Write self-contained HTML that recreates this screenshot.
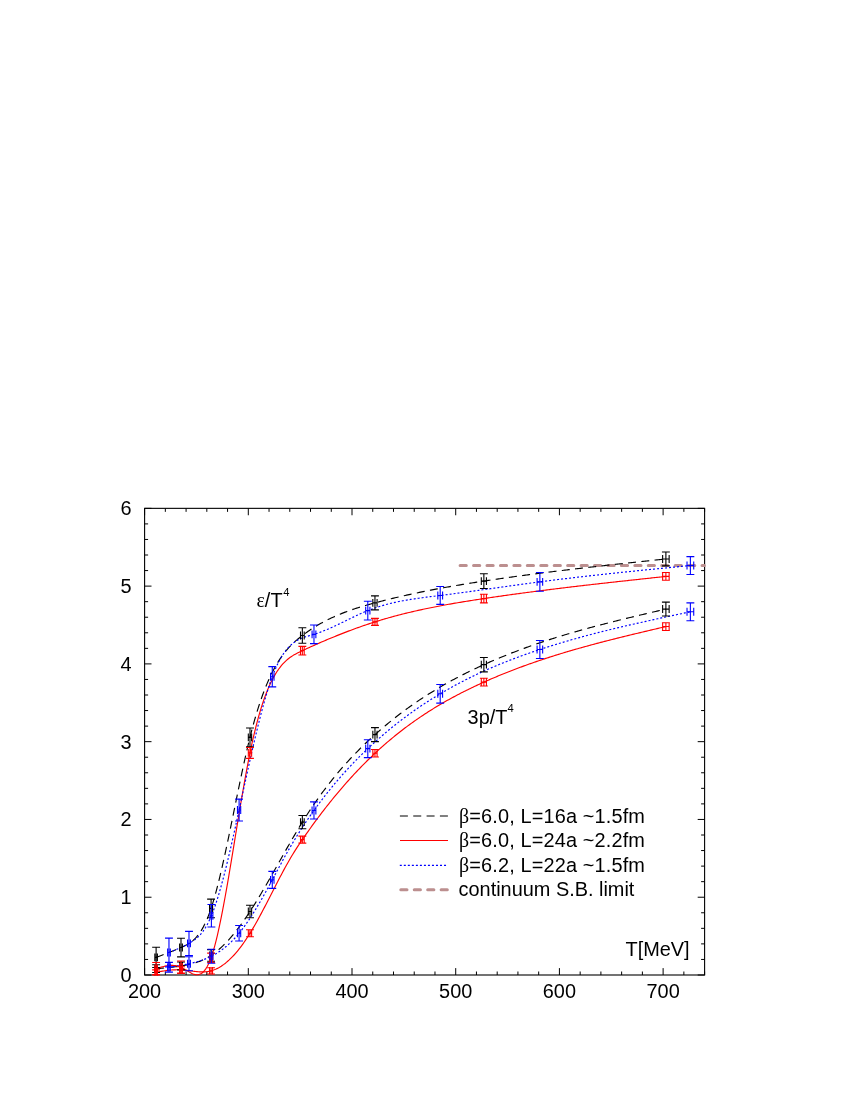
<!DOCTYPE html>
<html><head><meta charset="utf-8"><title>chart</title>
<style>
html,body{margin:0;padding:0;background:#fff;}
body{width:850px;height:1100px;overflow:hidden;font-family:"Liberation Sans",sans-serif;}
svg{display:block;will-change:transform;}
svg text{font-family:"Liberation Sans",sans-serif;fill:#000;}
</style></head><body>
<svg width="850" height="1100" viewBox="0 0 850 1100">
<rect x="144.60" y="508.35" width="560.00" height="466.65" fill="none" stroke="#000" stroke-width="1.1"/>
<path d="M144.60,975.00v-6.9M144.60,508.35v6.9M165.34,975.00v-3.5M165.34,508.35v3.5M186.08,975.00v-3.5M186.08,508.35v3.5M206.82,975.00v-3.5M206.82,508.35v3.5M227.56,975.00v-3.5M227.56,508.35v3.5M248.30,975.00v-6.9M248.30,508.35v6.9M269.04,975.00v-3.5M269.04,508.35v3.5M289.79,975.00v-3.5M289.79,508.35v3.5M310.53,975.00v-3.5M310.53,508.35v3.5M331.27,975.00v-3.5M331.27,508.35v3.5M352.01,975.00v-6.9M352.01,508.35v6.9M372.75,975.00v-3.5M372.75,508.35v3.5M393.49,975.00v-3.5M393.49,508.35v3.5M414.23,975.00v-3.5M414.23,508.35v3.5M434.97,975.00v-3.5M434.97,508.35v3.5M455.71,975.00v-6.9M455.71,508.35v6.9M476.45,975.00v-3.5M476.45,508.35v3.5M497.19,975.00v-3.5M497.19,508.35v3.5M517.93,975.00v-3.5M517.93,508.35v3.5M538.68,975.00v-3.5M538.68,508.35v3.5M559.42,975.00v-6.9M559.42,508.35v6.9M580.16,975.00v-3.5M580.16,508.35v3.5M600.90,975.00v-3.5M600.90,508.35v3.5M621.64,975.00v-3.5M621.64,508.35v3.5M642.38,975.00v-3.5M642.38,508.35v3.5M663.12,975.00v-6.9M663.12,508.35v6.9M683.86,975.00v-3.5M683.86,508.35v3.5M704.60,975.00v-3.5M704.60,508.35v3.5M144.60,975.00h6.9M704.60,975.00h-6.9M144.60,959.45h3.5M704.60,959.45h-3.5M144.60,943.89h3.5M704.60,943.89h-3.5M144.60,928.34h3.5M704.60,928.34h-3.5M144.60,912.78h3.5M704.60,912.78h-3.5M144.60,897.23h6.9M704.60,897.23h-6.9M144.60,881.67h3.5M704.60,881.67h-3.5M144.60,866.12h3.5M704.60,866.12h-3.5M144.60,850.56h3.5M704.60,850.56h-3.5M144.60,835.00h3.5M704.60,835.00h-3.5M144.60,819.45h6.9M704.60,819.45h-6.9M144.60,803.89h3.5M704.60,803.89h-3.5M144.60,788.34h3.5M704.60,788.34h-3.5M144.60,772.78h3.5M704.60,772.78h-3.5M144.60,757.23h3.5M704.60,757.23h-3.5M144.60,741.67h6.9M704.60,741.67h-6.9M144.60,726.12h3.5M704.60,726.12h-3.5M144.60,710.56h3.5M704.60,710.56h-3.5M144.60,695.01h3.5M704.60,695.01h-3.5M144.60,679.45h3.5M704.60,679.45h-3.5M144.60,663.90h6.9M704.60,663.90h-6.9M144.60,648.35h3.5M704.60,648.35h-3.5M144.60,632.79h3.5M704.60,632.79h-3.5M144.60,617.23h3.5M704.60,617.23h-3.5M144.60,601.68h3.5M704.60,601.68h-3.5M144.60,586.12h6.9M704.60,586.12h-6.9M144.60,570.57h3.5M704.60,570.57h-3.5M144.60,555.01h3.5M704.60,555.01h-3.5M144.60,539.46h3.5M704.60,539.46h-3.5M144.60,523.90h3.5M704.60,523.90h-3.5M144.60,508.35h6.9M704.60,508.35h-6.9" fill="none" stroke="#000" stroke-width="1"/>
<path d="M460.1,565.6H704.40" stroke="#bc8f8f" stroke-width="3" stroke-linecap="round" stroke-dasharray="6.2,7.24" fill="none"/>
<path d="M156.11,957.39 L157.39,956.91 L158.66,956.42 L159.94,955.94 L161.22,955.45 L162.50,954.96 L163.78,954.47 L165.05,953.98 L166.33,953.48 L167.61,952.98 L168.89,952.48 L170.16,951.98 L171.44,951.47 L172.72,950.96 L174.00,950.44 L175.27,949.92 L176.55,949.40 L177.83,948.87 L179.11,948.33 L180.38,947.79 L181.66,947.24 L182.94,946.67 L184.22,946.09 L185.50,945.47 L186.77,944.80 L188.05,944.08 L189.33,943.29 L190.61,942.41 L191.88,941.45 L193.16,940.39 L194.44,939.21 L195.72,937.91 L196.99,936.47 L198.27,934.89 L199.55,933.14 L200.83,931.23 L202.10,929.14 L203.38,926.86 L204.66,924.37 L205.94,921.67 L207.22,918.75 L208.49,915.59 L209.77,912.18 L211.05,908.51 L212.33,904.58 L213.60,900.39 L214.88,895.96 L216.16,891.30 L217.44,886.43 L218.71,881.37 L219.99,876.12 L221.27,870.71 L222.55,865.15 L223.82,859.45 L225.10,853.63 L226.38,847.70 L227.66,841.68 L228.94,835.59 L230.21,829.43 L231.49,823.23 L232.77,816.99 L234.05,810.74 L235.32,804.48 L236.60,798.24 L237.88,792.02 L239.16,785.85 L240.43,779.73 L241.71,773.69 L242.99,767.73 L244.27,761.88 L245.54,756.14 L246.82,750.54 L248.10,745.08 L249.38,739.78 L250.66,734.66 L251.93,729.72 L253.21,724.96 L254.49,720.37 L255.77,715.95 L257.04,711.70 L258.32,707.61 L259.60,703.67 L260.88,699.89 L262.15,696.26 L263.43,692.78 L264.71,689.43 L265.99,686.23 L267.27,683.15 L268.54,680.21 L269.82,677.39 L271.10,674.69 L272.38,672.11 L273.65,669.65 L274.93,667.29 L276.21,665.04 L277.49,662.89 L278.76,660.84 L280.04,658.88 L281.32,657.01 L282.60,655.22 L283.87,653.52 L285.15,651.89 L286.43,650.34 L287.71,648.85 L288.99,647.44 L290.26,646.08 L291.54,644.78 L292.82,643.53 L294.10,642.33 L295.37,641.18 L296.65,640.07 L297.93,639.00 L299.21,637.96 L300.48,636.95 L301.76,635.96 L303.04,635.00 L304.32,634.05 L305.59,633.12 L306.87,632.21 L308.15,631.32 L309.43,630.45 L310.71,629.60 L311.98,628.76 L313.26,627.94 L314.54,627.14 L315.82,626.35 L317.09,625.58 L318.37,624.83 L319.65,624.09 L320.93,623.37 L322.20,622.66 L323.48,621.96 L324.76,621.29 L326.04,620.62 L327.31,619.97 L328.59,619.33 L329.87,618.71 L331.15,618.10 L332.43,617.50 L333.70,616.91 L334.98,616.34 L336.26,615.78 L337.54,615.23 L338.81,614.69 L340.09,614.16 L341.37,613.64 L342.65,613.13 L343.92,612.64 L345.20,612.15 L346.48,611.67 L347.76,611.20 L349.03,610.74 L350.31,610.29 L351.59,609.85 L352.87,609.41 L354.15,608.98 L355.42,608.56 L356.70,608.15 L357.98,607.75 L359.26,607.35 L360.53,606.95 L361.81,606.57 L363.09,606.18 L364.37,605.81 L365.64,605.44 L366.92,605.07 L368.20,604.71 L369.48,604.35 L370.76,604.00 L372.03,603.65 L373.31,603.30 L374.59,602.95 L375.87,602.61 L377.14,602.27 L378.42,601.94 L379.70,601.60 L380.98,601.27 L382.25,600.95 L383.53,600.62 L384.81,600.30 L386.09,599.97 L387.36,599.66 L388.64,599.34 L389.92,599.03 L391.20,598.72 L392.48,598.41 L393.75,598.10 L395.03,597.80 L396.31,597.49 L397.59,597.19 L398.86,596.90 L400.14,596.60 L401.42,596.31 L402.70,596.02 L403.97,595.73 L405.25,595.44 L406.53,595.16 L407.81,594.88 L409.08,594.60 L410.36,594.32 L411.64,594.04 L412.92,593.77 L414.20,593.50 L415.47,593.23 L416.75,592.96 L418.03,592.69 L419.31,592.43 L420.58,592.16 L421.86,591.90 L423.14,591.65 L424.42,591.39 L425.69,591.13 L426.97,590.88 L428.25,590.63 L429.53,590.38 L430.80,590.13 L432.08,589.88 L433.36,589.64 L434.64,589.40 L435.92,589.16 L437.19,588.92 L438.47,588.68 L439.75,588.44 L441.03,588.21 L442.30,587.97 L443.58,587.74 L444.86,587.51 L446.14,587.28 L447.41,587.05 L448.69,586.83 L449.97,586.60 L451.25,586.38 L452.52,586.16 L453.80,585.94 L455.08,585.72 L456.36,585.50 L457.64,585.28 L458.91,585.07 L460.19,584.86 L461.47,584.64 L462.75,584.43 L464.02,584.22 L465.30,584.01 L466.58,583.80 L467.86,583.60 L469.13,583.39 L470.41,583.18 L471.69,582.98 L472.97,582.78 L474.24,582.58 L475.52,582.37 L476.80,582.17 L478.08,581.98 L479.36,581.78 L480.63,581.58 L481.91,581.38 L483.19,581.19 L484.47,580.99 L485.74,580.80 L487.02,580.61 L488.30,580.41 L489.58,580.22 L490.85,580.03 L492.13,579.84 L493.41,579.65 L494.69,579.47 L495.97,579.28 L497.24,579.09 L498.52,578.91 L499.80,578.72 L501.08,578.54 L502.35,578.35 L503.63,578.17 L504.91,577.99 L506.19,577.81 L507.46,577.62 L508.74,577.44 L510.02,577.26 L511.30,577.09 L512.57,576.91 L513.85,576.73 L515.13,576.55 L516.41,576.38 L517.69,576.20 L518.96,576.03 L520.24,575.86 L521.52,575.68 L522.80,575.51 L524.07,575.34 L525.35,575.17 L526.63,575.00 L527.91,574.83 L529.18,574.66 L530.46,574.49 L531.74,574.32 L533.02,574.15 L534.29,573.98 L535.57,573.82 L536.85,573.65 L538.13,573.49 L539.41,573.32 L540.68,573.16 L541.96,573.00 L543.24,572.83 L544.52,572.67 L545.79,572.51 L547.07,572.35 L548.35,572.19 L549.63,572.03 L550.90,571.87 L552.18,571.71 L553.46,571.55 L554.74,571.39 L556.01,571.23 L557.29,571.08 L558.57,570.92 L559.85,570.76 L561.13,570.61 L562.40,570.45 L563.68,570.30 L564.96,570.14 L566.24,569.99 L567.51,569.84 L568.79,569.68 L570.07,569.53 L571.35,569.38 L572.62,569.23 L573.90,569.08 L575.18,568.93 L576.46,568.78 L577.73,568.63 L579.01,568.48 L580.29,568.33 L581.57,568.18 L582.85,568.03 L584.12,567.88 L585.40,567.73 L586.68,567.59 L587.96,567.44 L589.23,567.29 L590.51,567.15 L591.79,567.00 L593.07,566.86 L594.34,566.71 L595.62,566.57 L596.90,566.42 L598.18,566.28 L599.46,566.13 L600.73,565.99 L602.01,565.85 L603.29,565.70 L604.57,565.56 L605.84,565.42 L607.12,565.28 L608.40,565.13 L609.68,564.99 L610.95,564.85 L612.23,564.71 L613.51,564.57 L614.79,564.43 L616.06,564.29 L617.34,564.15 L618.62,564.01 L619.90,563.87 L621.18,563.73 L622.45,563.59 L623.73,563.45 L625.01,563.31 L626.29,563.17 L627.56,563.03 L628.84,562.89 L630.12,562.75 L631.40,562.62 L632.67,562.48 L633.95,562.34 L635.23,562.20 L636.51,562.07 L637.78,561.93 L639.06,561.79 L640.34,561.65 L641.62,561.52 L642.90,561.38 L644.17,561.24 L645.45,561.11 L646.73,560.97 L648.01,560.83 L649.28,560.70 L650.56,560.56 L651.84,560.42 L653.12,560.29 L654.39,560.15 L655.67,560.01 L656.95,559.88 L658.23,559.74 L659.50,559.61 L660.78,559.47 L662.06,559.33 L663.34,559.20 L664.62,559.06 L665.89,558.93" fill="none" stroke="#000" stroke-width="1.15" stroke-dasharray="8,5.34"/>
<path d="M156.11,968.67 L157.39,968.56 L158.66,968.45 L159.94,968.33 L161.22,968.22 L162.50,968.10 L163.78,967.99 L165.05,967.87 L166.33,967.74 L167.61,967.62 L168.89,967.48 L170.16,967.35 L171.44,967.21 L172.72,967.06 L174.00,966.91 L175.27,966.75 L176.55,966.58 L177.83,966.41 L179.11,966.23 L180.38,966.04 L181.66,965.84 L182.94,965.64 L184.22,965.42 L185.50,965.19 L186.77,964.94 L188.05,964.68 L189.33,964.40 L190.61,964.10 L191.88,963.79 L193.16,963.44 L194.44,963.08 L195.72,962.69 L196.99,962.27 L198.27,961.83 L199.55,961.35 L200.83,960.85 L202.10,960.31 L203.38,959.73 L204.66,959.12 L205.94,958.47 L207.22,957.79 L208.49,957.06 L209.77,956.29 L211.05,955.47 L212.33,954.61 L213.60,953.71 L214.88,952.76 L216.16,951.76 L217.44,950.73 L218.71,949.65 L219.99,948.52 L221.27,947.36 L222.55,946.16 L223.82,944.91 L225.10,943.63 L226.38,942.30 L227.66,940.94 L228.94,939.54 L230.21,938.10 L231.49,936.63 L232.77,935.12 L234.05,933.57 L235.32,931.99 L236.60,930.37 L237.88,928.72 L239.16,927.04 L240.43,925.32 L241.71,923.57 L242.99,921.79 L244.27,919.98 L245.54,918.14 L246.82,916.27 L248.10,914.36 L249.38,912.44 L250.66,910.48 L251.93,908.49 L253.21,906.48 L254.49,904.45 L255.77,902.39 L257.04,900.31 L258.32,898.21 L259.60,896.08 L260.88,893.94 L262.15,891.79 L263.43,889.61 L264.71,887.42 L265.99,885.22 L267.27,883.01 L268.54,880.78 L269.82,878.55 L271.10,876.30 L272.38,874.05 L273.65,871.80 L274.93,869.53 L276.21,867.27 L277.49,865.00 L278.76,862.73 L280.04,860.46 L281.32,858.19 L282.60,855.93 L283.87,853.66 L285.15,851.41 L286.43,849.15 L287.71,846.91 L288.99,844.67 L290.26,842.45 L291.54,840.24 L292.82,838.03 L294.10,835.84 L295.37,833.67 L296.65,831.51 L297.93,829.37 L299.21,827.25 L300.48,825.15 L301.76,823.07 L303.04,821.01 L304.32,818.97 L305.59,816.96 L306.87,814.97 L308.15,813.00 L309.43,811.05 L310.71,809.12 L311.98,807.22 L313.26,805.33 L314.54,803.47 L315.82,801.62 L317.09,799.80 L318.37,798.00 L319.65,796.22 L320.93,794.45 L322.20,792.71 L323.48,790.98 L324.76,789.28 L326.04,787.59 L327.31,785.92 L328.59,784.27 L329.87,782.64 L331.15,781.02 L332.43,779.42 L333.70,777.84 L334.98,776.28 L336.26,774.73 L337.54,773.20 L338.81,771.69 L340.09,770.19 L341.37,768.71 L342.65,767.24 L343.92,765.79 L345.20,764.36 L346.48,762.94 L347.76,761.53 L349.03,760.14 L350.31,758.76 L351.59,757.40 L352.87,756.05 L354.15,754.71 L355.42,753.39 L356.70,752.08 L357.98,750.78 L359.26,749.50 L360.53,748.22 L361.81,746.96 L363.09,745.71 L364.37,744.48 L365.64,743.25 L366.92,742.04 L368.20,740.83 L369.48,739.64 L370.76,738.46 L372.03,737.29 L373.31,736.13 L374.59,734.97 L375.87,733.83 L377.14,732.70 L378.42,731.57 L379.70,730.46 L380.98,729.35 L382.25,728.26 L383.53,727.17 L384.81,726.09 L386.09,725.02 L387.36,723.96 L388.64,722.91 L389.92,721.87 L391.20,720.83 L392.48,719.81 L393.75,718.79 L395.03,717.78 L396.31,716.78 L397.59,715.79 L398.86,714.80 L400.14,713.83 L401.42,712.86 L402.70,711.90 L403.97,710.95 L405.25,710.01 L406.53,709.07 L407.81,708.15 L409.08,707.23 L410.36,706.32 L411.64,705.41 L412.92,704.51 L414.20,703.63 L415.47,702.74 L416.75,701.87 L418.03,701.00 L419.31,700.14 L420.58,699.29 L421.86,698.44 L423.14,697.61 L424.42,696.78 L425.69,695.95 L426.97,695.13 L428.25,694.32 L429.53,693.52 L430.80,692.72 L432.08,691.93 L433.36,691.15 L434.64,690.37 L435.92,689.60 L437.19,688.83 L438.47,688.07 L439.75,687.32 L441.03,686.57 L442.30,685.83 L443.58,685.10 L444.86,684.37 L446.14,683.65 L447.41,682.93 L448.69,682.22 L449.97,681.52 L451.25,680.82 L452.52,680.12 L453.80,679.44 L455.08,678.75 L456.36,678.08 L457.64,677.40 L458.91,676.74 L460.19,676.07 L461.47,675.42 L462.75,674.77 L464.02,674.12 L465.30,673.48 L466.58,672.84 L467.86,672.21 L469.13,671.58 L470.41,670.96 L471.69,670.34 L472.97,669.73 L474.24,669.12 L475.52,668.51 L476.80,667.91 L478.08,667.31 L479.36,666.72 L480.63,666.13 L481.91,665.55 L483.19,664.97 L484.47,664.40 L485.74,663.82 L487.02,663.26 L488.30,662.69 L489.58,662.13 L490.85,661.57 L492.13,661.02 L493.41,660.47 L494.69,659.93 L495.97,659.38 L497.24,658.85 L498.52,658.31 L499.80,657.78 L501.08,657.25 L502.35,656.73 L503.63,656.21 L504.91,655.69 L506.19,655.18 L507.46,654.67 L508.74,654.16 L510.02,653.66 L511.30,653.16 L512.57,652.66 L513.85,652.17 L515.13,651.68 L516.41,651.19 L517.69,650.71 L518.96,650.23 L520.24,649.75 L521.52,649.28 L522.80,648.81 L524.07,648.34 L525.35,647.87 L526.63,647.41 L527.91,646.95 L529.18,646.50 L530.46,646.04 L531.74,645.59 L533.02,645.15 L534.29,644.70 L535.57,644.26 L536.85,643.82 L538.13,643.39 L539.41,642.95 L540.68,642.52 L541.96,642.10 L543.24,641.67 L544.52,641.25 L545.79,640.83 L547.07,640.41 L548.35,640.00 L549.63,639.58 L550.90,639.17 L552.18,638.77 L553.46,638.36 L554.74,637.96 L556.01,637.56 L557.29,637.16 L558.57,636.77 L559.85,636.37 L561.13,635.98 L562.40,635.59 L563.68,635.21 L564.96,634.82 L566.24,634.44 L567.51,634.06 L568.79,633.69 L570.07,633.31 L571.35,632.94 L572.62,632.56 L573.90,632.19 L575.18,631.83 L576.46,631.46 L577.73,631.10 L579.01,630.74 L580.29,630.38 L581.57,630.02 L582.85,629.66 L584.12,629.31 L585.40,628.96 L586.68,628.60 L587.96,628.25 L589.23,627.91 L590.51,627.56 L591.79,627.22 L593.07,626.87 L594.34,626.53 L595.62,626.19 L596.90,625.86 L598.18,625.52 L599.46,625.18 L600.73,624.85 L602.01,624.52 L603.29,624.19 L604.57,623.86 L605.84,623.53 L607.12,623.20 L608.40,622.88 L609.68,622.55 L610.95,622.23 L612.23,621.91 L613.51,621.58 L614.79,621.26 L616.06,620.95 L617.34,620.63 L618.62,620.31 L619.90,620.00 L621.18,619.68 L622.45,619.37 L623.73,619.05 L625.01,618.74 L626.29,618.43 L627.56,618.12 L628.84,617.81 L630.12,617.50 L631.40,617.20 L632.67,616.89 L633.95,616.58 L635.23,616.28 L636.51,615.97 L637.78,615.67 L639.06,615.36 L640.34,615.06 L641.62,614.76 L642.90,614.46 L644.17,614.15 L645.45,613.85 L646.73,613.55 L648.01,613.25 L649.28,612.95 L650.56,612.65 L651.84,612.35 L653.12,612.05 L654.39,611.76 L655.67,611.46 L656.95,611.16 L658.23,610.86 L659.50,610.56 L660.78,610.26 L662.06,609.97 L663.34,609.67 L664.62,609.37 L665.89,609.08" fill="none" stroke="#000" stroke-width="1.15" stroke-dasharray="8,5.34"/>
<path d="M156.11,968.67 L157.39,968.27 L158.66,967.88 L159.94,967.50 L161.22,967.14 L162.50,966.79 L163.78,966.47 L165.05,966.18 L166.33,965.93 L167.61,965.72 L168.89,965.56 L170.16,965.44 L171.44,965.38 L172.72,965.39 L174.00,965.46 L175.27,965.60 L176.55,965.83 L177.83,966.13 L179.11,966.52 L180.38,967.00 L181.66,967.58 L182.94,968.25 L184.22,968.98 L185.50,969.75 L186.77,970.54 L188.05,971.33 L189.33,972.09 L190.61,972.79 L191.88,973.42 L193.16,973.95 L194.44,974.36 L195.72,974.62 L196.99,974.71 L198.27,974.61 L199.55,974.30 L200.83,973.74 L202.10,972.92 L203.38,971.82 L204.66,970.40 L205.94,968.66 L207.22,966.55 L208.49,964.07 L209.77,961.19 L211.05,957.87 L212.33,954.12 L213.60,949.94 L214.88,945.35 L216.16,940.39 L217.44,935.06 L218.71,929.41 L219.99,923.45 L221.27,917.20 L222.55,910.69 L223.82,903.95 L225.10,896.99 L226.38,889.84 L227.66,882.53 L228.94,875.08 L230.21,867.50 L231.49,859.83 L232.77,852.09 L234.05,844.31 L235.32,836.50 L236.60,828.69 L237.88,820.91 L239.16,813.17 L240.43,805.51 L241.71,797.94 L242.99,790.49 L244.27,783.18 L245.54,776.04 L246.82,769.09 L248.10,762.36 L249.38,755.86 L250.66,749.63 L251.93,743.66 L253.21,737.96 L254.49,732.52 L255.77,727.32 L257.04,722.37 L258.32,717.65 L259.60,713.16 L260.88,708.90 L262.15,704.85 L263.43,701.02 L264.71,697.39 L265.99,693.95 L267.27,690.71 L268.54,687.64 L269.82,684.76 L271.10,682.05 L272.38,679.50 L273.65,677.11 L274.93,674.87 L276.21,672.77 L277.49,670.81 L278.76,668.98 L280.04,667.28 L281.32,665.69 L282.60,664.22 L283.87,662.85 L285.15,661.57 L286.43,660.39 L287.71,659.30 L288.99,658.28 L290.26,657.33 L291.54,656.45 L292.82,655.63 L294.10,654.86 L295.37,654.13 L296.65,653.44 L297.93,652.79 L299.21,652.16 L300.48,651.55 L301.76,650.95 L303.04,650.35 L304.32,649.76 L305.59,649.17 L306.87,648.59 L308.15,648.01 L309.43,647.43 L310.71,646.85 L311.98,646.27 L313.26,645.70 L314.54,645.13 L315.82,644.56 L317.09,644.00 L318.37,643.44 L319.65,642.88 L320.93,642.33 L322.20,641.77 L323.48,641.22 L324.76,640.68 L326.04,640.13 L327.31,639.59 L328.59,639.06 L329.87,638.52 L331.15,637.99 L332.43,637.46 L333.70,636.94 L334.98,636.42 L336.26,635.90 L337.54,635.39 L338.81,634.87 L340.09,634.37 L341.37,633.86 L342.65,633.36 L343.92,632.86 L345.20,632.37 L346.48,631.88 L347.76,631.39 L349.03,630.91 L350.31,630.43 L351.59,629.95 L352.87,629.48 L354.15,629.01 L355.42,628.54 L356.70,628.08 L357.98,627.62 L359.26,627.17 L360.53,626.72 L361.81,626.27 L363.09,625.83 L364.37,625.39 L365.64,624.95 L366.92,624.52 L368.20,624.10 L369.48,623.67 L370.76,623.25 L372.03,622.84 L373.31,622.43 L374.59,622.02 L375.87,621.62 L377.14,621.22 L378.42,620.83 L379.70,620.44 L380.98,620.05 L382.25,619.67 L383.53,619.29 L384.81,618.92 L386.09,618.54 L387.36,618.18 L388.64,617.82 L389.92,617.46 L391.20,617.10 L392.48,616.75 L393.75,616.40 L395.03,616.06 L396.31,615.72 L397.59,615.38 L398.86,615.05 L400.14,614.71 L401.42,614.39 L402.70,614.06 L403.97,613.74 L405.25,613.43 L406.53,613.11 L407.81,612.80 L409.08,612.49 L410.36,612.19 L411.64,611.89 L412.92,611.59 L414.20,611.29 L415.47,611.00 L416.75,610.71 L418.03,610.43 L419.31,610.14 L420.58,609.86 L421.86,609.58 L423.14,609.31 L424.42,609.03 L425.69,608.76 L426.97,608.50 L428.25,608.23 L429.53,607.97 L430.80,607.71 L432.08,607.45 L433.36,607.20 L434.64,606.94 L435.92,606.69 L437.19,606.44 L438.47,606.20 L439.75,605.95 L441.03,605.71 L442.30,605.47 L443.58,605.24 L444.86,605.00 L446.14,604.77 L447.41,604.53 L448.69,604.30 L449.97,604.08 L451.25,603.85 L452.52,603.63 L453.80,603.40 L455.08,603.18 L456.36,602.96 L457.64,602.75 L458.91,602.53 L460.19,602.32 L461.47,602.10 L462.75,601.89 L464.02,601.68 L465.30,601.47 L466.58,601.27 L467.86,601.06 L469.13,600.86 L470.41,600.65 L471.69,600.45 L472.97,600.25 L474.24,600.05 L475.52,599.85 L476.80,599.65 L478.08,599.46 L479.36,599.26 L480.63,599.07 L481.91,598.87 L483.19,598.68 L484.47,598.49 L485.74,598.30 L487.02,598.11 L488.30,597.92 L489.58,597.73 L490.85,597.54 L492.13,597.35 L493.41,597.16 L494.69,596.98 L495.97,596.79 L497.24,596.61 L498.52,596.42 L499.80,596.24 L501.08,596.06 L502.35,595.87 L503.63,595.69 L504.91,595.51 L506.19,595.33 L507.46,595.15 L508.74,594.97 L510.02,594.80 L511.30,594.62 L512.57,594.44 L513.85,594.27 L515.13,594.09 L516.41,593.92 L517.69,593.74 L518.96,593.57 L520.24,593.40 L521.52,593.22 L522.80,593.05 L524.07,592.88 L525.35,592.71 L526.63,592.54 L527.91,592.37 L529.18,592.20 L530.46,592.04 L531.74,591.87 L533.02,591.70 L534.29,591.54 L535.57,591.37 L536.85,591.21 L538.13,591.04 L539.41,590.88 L540.68,590.71 L541.96,590.55 L543.24,590.39 L544.52,590.23 L545.79,590.06 L547.07,589.90 L548.35,589.74 L549.63,589.58 L550.90,589.42 L552.18,589.26 L553.46,589.11 L554.74,588.95 L556.01,588.79 L557.29,588.63 L558.57,588.48 L559.85,588.32 L561.13,588.17 L562.40,588.01 L563.68,587.86 L564.96,587.70 L566.24,587.55 L567.51,587.39 L568.79,587.24 L570.07,587.09 L571.35,586.94 L572.62,586.78 L573.90,586.63 L575.18,586.48 L576.46,586.33 L577.73,586.18 L579.01,586.03 L580.29,585.88 L581.57,585.73 L582.85,585.58 L584.12,585.43 L585.40,585.29 L586.68,585.14 L587.96,584.99 L589.23,584.84 L590.51,584.70 L591.79,584.55 L593.07,584.41 L594.34,584.26 L595.62,584.11 L596.90,583.97 L598.18,583.82 L599.46,583.68 L600.73,583.53 L602.01,583.39 L603.29,583.25 L604.57,583.10 L605.84,582.96 L607.12,582.82 L608.40,582.67 L609.68,582.53 L610.95,582.39 L612.23,582.25 L613.51,582.11 L614.79,581.96 L616.06,581.82 L617.34,581.68 L618.62,581.54 L619.90,581.40 L621.18,581.26 L622.45,581.12 L623.73,580.98 L625.01,580.84 L626.29,580.70 L627.56,580.56 L628.84,580.42 L630.12,580.28 L631.40,580.14 L632.67,580.00 L633.95,579.86 L635.23,579.72 L636.51,579.59 L637.78,579.45 L639.06,579.31 L640.34,579.17 L641.62,579.03 L642.90,578.89 L644.17,578.76 L645.45,578.62 L646.73,578.48 L648.01,578.34 L649.28,578.20 L650.56,578.07 L651.84,577.93 L653.12,577.79 L654.39,577.65 L655.67,577.52 L656.95,577.38 L658.23,577.24 L659.50,577.11 L660.78,576.97 L662.06,576.83 L663.34,576.69 L664.62,576.56 L665.89,576.42" fill="none" stroke="#ff0000" stroke-width="1.15"/>
<path d="M156.11,972.17 L157.39,971.96 L158.66,971.74 L159.94,971.54 L161.22,971.33 L162.50,971.14 L163.78,970.95 L165.05,970.76 L166.33,970.59 L167.61,970.43 L168.89,970.29 L170.16,970.16 L171.44,970.04 L172.72,969.94 L174.00,969.86 L175.27,969.81 L176.55,969.77 L177.83,969.76 L179.11,969.77 L180.38,969.81 L181.66,969.87 L182.94,969.97 L184.22,970.08 L185.50,970.21 L186.77,970.36 L188.05,970.52 L189.33,970.69 L190.61,970.86 L191.88,971.03 L193.16,971.20 L194.44,971.35 L195.72,971.50 L196.99,971.62 L198.27,971.73 L199.55,971.82 L200.83,971.87 L202.10,971.90 L203.38,971.89 L204.66,971.84 L205.94,971.74 L207.22,971.60 L208.49,971.41 L209.77,971.16 L211.05,970.85 L212.33,970.49 L213.60,970.05 L214.88,969.56 L216.16,969.01 L217.44,968.39 L218.71,967.71 L219.99,966.98 L221.27,966.18 L222.55,965.32 L223.82,964.41 L225.10,963.43 L226.38,962.40 L227.66,961.30 L228.94,960.16 L230.21,958.95 L231.49,957.68 L232.77,956.36 L234.05,954.99 L235.32,953.56 L236.60,952.07 L237.88,950.53 L239.16,948.93 L240.43,947.28 L241.71,945.58 L242.99,943.82 L244.27,942.01 L245.54,940.15 L246.82,938.24 L248.10,936.27 L249.38,934.25 L250.66,932.19 L251.93,930.07 L253.21,927.91 L254.49,925.70 L255.77,923.46 L257.04,921.17 L258.32,918.86 L259.60,916.51 L260.88,914.13 L262.15,911.73 L263.43,909.31 L264.71,906.86 L265.99,904.40 L267.27,901.93 L268.54,899.44 L269.82,896.95 L271.10,894.46 L272.38,891.96 L273.65,889.46 L274.93,886.97 L276.21,884.48 L277.49,882.01 L278.76,879.55 L280.04,877.10 L281.32,874.68 L282.60,872.27 L283.87,869.89 L285.15,867.54 L286.43,865.22 L287.71,862.94 L288.99,860.69 L290.26,858.48 L291.54,856.31 L292.82,854.19 L294.10,852.12 L295.37,850.09 L296.65,848.10 L297.93,846.15 L299.21,844.24 L300.48,842.34 L301.76,840.47 L303.04,838.61 L304.32,836.76 L305.59,834.93 L306.87,833.11 L308.15,831.30 L309.43,829.50 L310.71,827.72 L311.98,825.95 L313.26,824.19 L314.54,822.44 L315.82,820.71 L317.09,818.99 L318.37,817.28 L319.65,815.58 L320.93,813.89 L322.20,812.22 L323.48,810.56 L324.76,808.91 L326.04,807.27 L327.31,805.65 L328.59,804.03 L329.87,802.43 L331.15,800.84 L332.43,799.26 L333.70,797.70 L334.98,796.14 L336.26,794.60 L337.54,793.07 L338.81,791.55 L340.09,790.04 L341.37,788.55 L342.65,787.07 L343.92,785.59 L345.20,784.13 L346.48,782.68 L347.76,781.25 L349.03,779.82 L350.31,778.40 L351.59,777.00 L352.87,775.61 L354.15,774.23 L355.42,772.86 L356.70,771.50 L357.98,770.15 L359.26,768.82 L360.53,767.49 L361.81,766.18 L363.09,764.88 L364.37,763.58 L365.64,762.30 L366.92,761.03 L368.20,759.78 L369.48,758.53 L370.76,757.29 L372.03,756.07 L373.31,754.85 L374.59,753.65 L375.87,752.46 L377.14,751.27 L378.42,750.10 L379.70,748.94 L380.98,747.79 L382.25,746.65 L383.53,745.52 L384.81,744.40 L386.09,743.29 L387.36,742.19 L388.64,741.10 L389.92,740.02 L391.20,738.95 L392.48,737.89 L393.75,736.84 L395.03,735.80 L396.31,734.77 L397.59,733.75 L398.86,732.73 L400.14,731.73 L401.42,730.74 L402.70,729.75 L403.97,728.77 L405.25,727.81 L406.53,726.85 L407.81,725.90 L409.08,724.96 L410.36,724.03 L411.64,723.10 L412.92,722.19 L414.20,721.28 L415.47,720.38 L416.75,719.49 L418.03,718.61 L419.31,717.73 L420.58,716.87 L421.86,716.01 L423.14,715.16 L424.42,714.32 L425.69,713.48 L426.97,712.65 L428.25,711.83 L429.53,711.02 L430.80,710.21 L432.08,709.42 L433.36,708.62 L434.64,707.84 L435.92,707.06 L437.19,706.29 L438.47,705.53 L439.75,704.77 L441.03,704.02 L442.30,703.28 L443.58,702.54 L444.86,701.81 L446.14,701.09 L447.41,700.37 L448.69,699.66 L449.97,698.95 L451.25,698.25 L452.52,697.56 L453.80,696.87 L455.08,696.19 L456.36,695.51 L457.64,694.84 L458.91,694.17 L460.19,693.51 L461.47,692.86 L462.75,692.21 L464.02,691.56 L465.30,690.92 L466.58,690.29 L467.86,689.66 L469.13,689.04 L470.41,688.42 L471.69,687.80 L472.97,687.19 L474.24,686.58 L475.52,685.98 L476.80,685.39 L478.08,684.79 L479.36,684.20 L480.63,683.62 L481.91,683.04 L483.19,682.46 L484.47,681.89 L485.74,681.32 L487.02,680.76 L488.30,680.20 L489.58,679.64 L490.85,679.08 L492.13,678.53 L493.41,677.99 L494.69,677.45 L495.97,676.91 L497.24,676.37 L498.52,675.84 L499.80,675.31 L501.08,674.79 L502.35,674.26 L503.63,673.75 L504.91,673.23 L506.19,672.72 L507.46,672.21 L508.74,671.71 L510.02,671.21 L511.30,670.71 L512.57,670.21 L513.85,669.72 L515.13,669.24 L516.41,668.75 L517.69,668.27 L518.96,667.79 L520.24,667.31 L521.52,666.84 L522.80,666.37 L524.07,665.91 L525.35,665.44 L526.63,664.98 L527.91,664.52 L529.18,664.07 L530.46,663.62 L531.74,663.17 L533.02,662.72 L534.29,662.28 L535.57,661.84 L536.85,661.40 L538.13,660.97 L539.41,660.53 L540.68,660.10 L541.96,659.68 L543.24,659.25 L544.52,658.83 L545.79,658.41 L547.07,657.99 L548.35,657.58 L549.63,657.17 L550.90,656.76 L552.18,656.35 L553.46,655.95 L554.74,655.54 L556.01,655.14 L557.29,654.75 L558.57,654.35 L559.85,653.96 L561.13,653.57 L562.40,653.18 L563.68,652.79 L564.96,652.41 L566.24,652.03 L567.51,651.65 L568.79,651.27 L570.07,650.89 L571.35,650.52 L572.62,650.15 L573.90,649.78 L575.18,649.41 L576.46,649.04 L577.73,648.68 L579.01,648.32 L580.29,647.96 L581.57,647.60 L582.85,647.24 L584.12,646.89 L585.40,646.53 L586.68,646.18 L587.96,645.83 L589.23,645.48 L590.51,645.14 L591.79,644.79 L593.07,644.45 L594.34,644.11 L595.62,643.76 L596.90,643.43 L598.18,643.09 L599.46,642.75 L600.73,642.42 L602.01,642.08 L603.29,641.75 L604.57,641.42 L605.84,641.09 L607.12,640.76 L608.40,640.44 L609.68,640.11 L610.95,639.79 L612.23,639.46 L613.51,639.14 L614.79,638.82 L616.06,638.50 L617.34,638.18 L618.62,637.86 L619.90,637.54 L621.18,637.23 L622.45,636.91 L623.73,636.60 L625.01,636.29 L626.29,635.97 L627.56,635.66 L628.84,635.35 L630.12,635.04 L631.40,634.73 L632.67,634.42 L633.95,634.12 L635.23,633.81 L636.51,633.50 L637.78,633.20 L639.06,632.89 L640.34,632.59 L641.62,632.28 L642.90,631.98 L644.17,631.68 L645.45,631.37 L646.73,631.07 L648.01,630.77 L649.28,630.47 L650.56,630.17 L651.84,629.86 L653.12,629.56 L654.39,629.26 L655.67,628.96 L656.95,628.66 L658.23,628.36 L659.50,628.06 L660.78,627.77 L662.06,627.47 L663.34,627.17 L664.62,626.87 L665.89,626.57" fill="none" stroke="#ff0000" stroke-width="1.15"/>
<path d="M168.97,952.50 L170.28,951.97 L171.58,951.44 L172.89,950.91 L174.20,950.38 L175.50,949.83 L176.81,949.28 L178.12,948.72 L179.42,948.15 L180.73,947.56 L182.04,946.95 L183.34,946.33 L184.65,945.69 L185.96,945.03 L187.27,944.34 L188.57,943.63 L189.88,942.89 L191.19,942.12 L192.49,941.30 L193.80,940.41 L195.11,939.45 L196.41,938.41 L197.72,937.25 L199.03,935.99 L200.33,934.59 L201.64,933.06 L202.95,931.37 L204.25,929.51 L205.56,927.47 L206.87,925.23 L208.17,922.79 L209.48,920.12 L210.79,917.22 L212.09,914.08 L213.40,910.69 L214.71,907.06 L216.01,903.20 L217.32,899.13 L218.63,894.86 L219.93,890.40 L221.24,885.75 L222.55,880.94 L223.85,875.97 L225.16,870.85 L226.47,865.59 L227.78,860.21 L229.08,854.71 L230.39,849.12 L231.70,843.43 L233.00,837.66 L234.31,831.82 L235.62,825.92 L236.92,819.97 L238.23,813.99 L239.54,807.98 L240.84,801.96 L242.15,795.94 L243.46,789.91 L244.76,783.91 L246.07,777.92 L247.38,771.96 L248.68,766.05 L249.99,760.18 L251.30,754.37 L252.60,748.63 L253.91,742.97 L255.22,737.39 L256.52,731.91 L257.83,726.54 L259.14,721.27 L260.44,716.13 L261.75,711.13 L263.06,706.26 L264.36,701.54 L265.67,696.98 L266.98,692.59 L268.28,688.38 L269.59,684.36 L270.90,680.53 L272.21,676.91 L273.51,673.50 L274.82,670.29 L276.13,667.29 L277.43,664.48 L278.74,661.85 L280.05,659.41 L281.35,657.13 L282.66,655.02 L283.97,653.07 L285.27,651.26 L286.58,649.60 L287.89,648.07 L289.19,646.66 L290.50,645.38 L291.81,644.21 L293.11,643.14 L294.42,642.17 L295.73,641.29 L297.03,640.50 L298.34,639.77 L299.65,639.12 L300.95,638.53 L302.26,637.99 L303.57,637.50 L304.87,637.04 L306.18,636.62 L307.49,636.22 L308.79,635.84 L310.10,635.47 L311.41,635.09 L312.71,634.72 L314.02,634.33 L315.33,633.92 L316.64,633.49 L317.94,633.05 L319.25,632.58 L320.56,632.10 L321.86,631.61 L323.17,631.10 L324.48,630.57 L325.78,630.04 L327.09,629.49 L328.40,628.92 L329.70,628.35 L331.01,627.77 L332.32,627.18 L333.62,626.58 L334.93,625.97 L336.24,625.35 L337.54,624.73 L338.85,624.11 L340.16,623.48 L341.46,622.84 L342.77,622.21 L344.08,621.57 L345.38,620.93 L346.69,620.29 L348.00,619.65 L349.30,619.02 L350.61,618.38 L351.92,617.75 L353.22,617.12 L354.53,616.50 L355.84,615.88 L357.15,615.27 L358.45,614.67 L359.76,614.07 L361.07,613.48 L362.37,612.91 L363.68,612.34 L364.99,611.78 L366.29,611.24 L367.60,610.71 L368.91,610.19 L370.21,609.69 L371.52,609.20 L372.83,608.73 L374.13,608.26 L375.44,607.81 L376.75,607.37 L378.05,606.95 L379.36,606.53 L380.67,606.13 L381.97,605.74 L383.28,605.35 L384.59,604.98 L385.89,604.62 L387.20,604.28 L388.51,603.94 L389.81,603.61 L391.12,603.28 L392.43,602.97 L393.73,602.67 L395.04,602.38 L396.35,602.09 L397.65,601.81 L398.96,601.54 L400.27,601.28 L401.58,601.02 L402.88,600.78 L404.19,600.53 L405.50,600.30 L406.80,600.07 L408.11,599.85 L409.42,599.63 L410.72,599.42 L412.03,599.21 L413.34,599.01 L414.64,598.81 L415.95,598.62 L417.26,598.43 L418.56,598.24 L419.87,598.06 L421.18,597.88 L422.48,597.70 L423.79,597.53 L425.10,597.36 L426.40,597.19 L427.71,597.02 L429.02,596.86 L430.32,596.69 L431.63,596.53 L432.94,596.37 L434.24,596.21 L435.55,596.05 L436.86,595.88 L438.16,595.72 L439.47,595.56 L440.78,595.40 L442.08,595.23 L443.39,595.07 L444.70,594.90 L446.01,594.73 L447.31,594.57 L448.62,594.40 L449.93,594.23 L451.23,594.06 L452.54,593.89 L453.85,593.71 L455.15,593.54 L456.46,593.37 L457.77,593.19 L459.07,593.02 L460.38,592.84 L461.69,592.67 L462.99,592.49 L464.30,592.31 L465.61,592.14 L466.91,591.96 L468.22,591.78 L469.53,591.60 L470.83,591.42 L472.14,591.24 L473.45,591.06 L474.75,590.88 L476.06,590.70 L477.37,590.52 L478.67,590.33 L479.98,590.15 L481.29,589.97 L482.59,589.79 L483.90,589.60 L485.21,589.42 L486.52,589.24 L487.82,589.05 L489.13,588.87 L490.44,588.69 L491.74,588.50 L493.05,588.32 L494.36,588.13 L495.66,587.95 L496.97,587.76 L498.28,587.58 L499.58,587.40 L500.89,587.21 L502.20,587.03 L503.50,586.84 L504.81,586.66 L506.12,586.48 L507.42,586.29 L508.73,586.11 L510.04,585.93 L511.34,585.75 L512.65,585.56 L513.96,585.38 L515.26,585.20 L516.57,585.02 L517.88,584.84 L519.18,584.66 L520.49,584.47 L521.80,584.29 L523.10,584.12 L524.41,583.94 L525.72,583.76 L527.02,583.58 L528.33,583.40 L529.64,583.23 L530.95,583.05 L532.25,582.87 L533.56,582.70 L534.87,582.52 L536.17,582.35 L537.48,582.18 L538.79,582.01 L540.09,581.83 L541.40,581.66 L542.71,581.49 L544.01,581.32 L545.32,581.16 L546.63,580.99 L547.93,580.82 L549.24,580.65 L550.55,580.49 L551.85,580.32 L553.16,580.16 L554.47,580.00 L555.77,579.83 L557.08,579.67 L558.39,579.51 L559.69,579.35 L561.00,579.19 L562.31,579.03 L563.61,578.87 L564.92,578.71 L566.23,578.56 L567.53,578.40 L568.84,578.24 L570.15,578.09 L571.46,577.93 L572.76,577.78 L574.07,577.62 L575.38,577.47 L576.68,577.32 L577.99,577.17 L579.30,577.01 L580.60,576.86 L581.91,576.71 L583.22,576.56 L584.52,576.41 L585.83,576.27 L587.14,576.12 L588.44,575.97 L589.75,575.82 L591.06,575.68 L592.36,575.53 L593.67,575.39 L594.98,575.24 L596.28,575.10 L597.59,574.95 L598.90,574.81 L600.20,574.66 L601.51,574.52 L602.82,574.38 L604.12,574.24 L605.43,574.10 L606.74,573.96 L608.04,573.82 L609.35,573.68 L610.66,573.54 L611.96,573.40 L613.27,573.26 L614.58,573.12 L615.89,572.98 L617.19,572.84 L618.50,572.71 L619.81,572.57 L621.11,572.43 L622.42,572.30 L623.73,572.16 L625.03,572.03 L626.34,571.89 L627.65,571.76 L628.95,571.62 L630.26,571.49 L631.57,571.35 L632.87,571.22 L634.18,571.09 L635.49,570.95 L636.79,570.82 L638.10,570.69 L639.41,570.55 L640.71,570.42 L642.02,570.29 L643.33,570.16 L644.63,570.03 L645.94,569.90 L647.25,569.77 L648.55,569.64 L649.86,569.51 L651.17,569.38 L652.47,569.25 L653.78,569.12 L655.09,568.99 L656.39,568.86 L657.70,568.73 L659.01,568.60 L660.32,568.47 L661.62,568.34 L662.93,568.21 L664.24,568.08 L665.54,567.96 L666.85,567.83 L668.16,567.70 L669.46,567.57 L670.77,567.44 L672.08,567.32 L673.38,567.19 L674.69,567.06 L676.00,566.93 L677.30,566.81 L678.61,566.68 L679.92,566.55 L681.22,566.42 L682.53,566.30 L683.84,566.17 L685.14,566.04 L686.45,565.92 L687.76,565.79 L689.06,565.66 L690.37,565.54" fill="none" stroke="#0000ff" stroke-width="1.15" stroke-dasharray="2,2.02"/>
<path d="M168.97,967.27 L170.28,967.07 L171.58,966.87 L172.89,966.66 L174.20,966.46 L175.50,966.25 L176.81,966.04 L178.12,965.83 L179.42,965.61 L180.73,965.38 L182.04,965.15 L183.34,964.91 L184.65,964.66 L185.96,964.40 L187.27,964.14 L188.57,963.86 L189.88,963.57 L191.19,963.28 L192.49,962.96 L193.80,962.64 L195.11,962.30 L196.41,961.94 L197.72,961.56 L199.03,961.17 L200.33,960.75 L201.64,960.31 L202.95,959.85 L204.25,959.37 L205.56,958.86 L206.87,958.32 L208.17,957.75 L209.48,957.16 L210.79,956.53 L212.09,955.87 L213.40,955.18 L214.71,954.45 L216.01,953.69 L217.32,952.90 L218.63,952.06 L219.93,951.19 L221.24,950.28 L222.55,949.33 L223.85,948.33 L225.16,947.29 L226.47,946.21 L227.78,945.08 L229.08,943.91 L230.39,942.69 L231.70,941.42 L233.00,940.11 L234.31,938.74 L235.62,937.32 L236.92,935.85 L238.23,934.32 L239.54,932.74 L240.84,931.11 L242.15,929.42 L243.46,927.68 L244.76,925.89 L246.07,924.05 L247.38,922.17 L248.68,920.24 L249.99,918.27 L251.30,916.26 L252.60,914.21 L253.91,912.12 L255.22,910.00 L256.52,907.85 L257.83,905.66 L259.14,903.44 L260.44,901.20 L261.75,898.92 L263.06,896.63 L264.36,894.31 L265.67,891.97 L266.98,889.61 L268.28,887.23 L269.59,884.84 L270.90,882.43 L272.21,880.01 L273.51,877.58 L274.82,875.14 L276.13,872.70 L277.43,870.26 L278.74,867.82 L280.05,865.39 L281.35,862.98 L282.66,860.57 L283.97,858.18 L285.27,855.82 L286.58,853.48 L287.89,851.16 L289.19,848.88 L290.50,846.63 L291.81,844.40 L293.11,842.20 L294.42,840.03 L295.73,837.89 L297.03,835.77 L298.34,833.68 L299.65,831.61 L300.95,829.57 L302.26,827.56 L303.57,825.56 L304.87,823.59 L306.18,821.64 L307.49,819.71 L308.79,817.81 L310.10,815.92 L311.41,814.05 L312.71,812.21 L314.02,810.38 L315.33,808.57 L316.64,806.77 L317.94,805.00 L319.25,803.24 L320.56,801.50 L321.86,799.78 L323.17,798.08 L324.48,796.39 L325.78,794.72 L327.09,793.06 L328.40,791.42 L329.70,789.80 L331.01,788.19 L332.32,786.60 L333.62,785.02 L334.93,783.46 L336.24,781.92 L337.54,780.39 L338.85,778.87 L340.16,777.37 L341.46,775.88 L342.77,774.41 L344.08,772.95 L345.38,771.50 L346.69,770.07 L348.00,768.65 L349.30,767.24 L350.61,765.85 L351.92,764.47 L353.22,763.10 L354.53,761.75 L355.84,760.40 L357.15,759.07 L358.45,757.75 L359.76,756.44 L361.07,755.15 L362.37,753.86 L363.68,752.59 L364.99,751.32 L366.29,750.07 L367.60,748.83 L368.91,747.60 L370.21,746.37 L371.52,745.16 L372.83,743.96 L374.13,742.77 L375.44,741.58 L376.75,740.41 L378.05,739.25 L379.36,738.09 L380.67,736.95 L381.97,735.81 L383.28,734.69 L384.59,733.57 L385.89,732.47 L387.20,731.37 L388.51,730.28 L389.81,729.20 L391.12,728.13 L392.43,727.07 L393.73,726.02 L395.04,724.98 L396.35,723.94 L397.65,722.92 L398.96,721.90 L400.27,720.89 L401.58,719.89 L402.88,718.90 L404.19,717.91 L405.50,716.94 L406.80,715.97 L408.11,715.01 L409.42,714.06 L410.72,713.12 L412.03,712.18 L413.34,711.26 L414.64,710.34 L415.95,709.42 L417.26,708.52 L418.56,707.62 L419.87,706.73 L421.18,705.85 L422.48,704.98 L423.79,704.11 L425.10,703.25 L426.40,702.40 L427.71,701.56 L429.02,700.72 L430.32,699.89 L431.63,699.06 L432.94,698.24 L434.24,697.43 L435.55,696.63 L436.86,695.83 L438.16,695.04 L439.47,694.26 L440.78,693.48 L442.08,692.71 L443.39,691.94 L444.70,691.18 L446.01,690.43 L447.31,689.68 L448.62,688.94 L449.93,688.21 L451.23,687.48 L452.54,686.76 L453.85,686.04 L455.15,685.33 L456.46,684.62 L457.77,683.93 L459.07,683.23 L460.38,682.54 L461.69,681.86 L462.99,681.19 L464.30,680.51 L465.61,679.85 L466.91,679.19 L468.22,678.53 L469.53,677.89 L470.83,677.24 L472.14,676.60 L473.45,675.97 L474.75,675.34 L476.06,674.72 L477.37,674.10 L478.67,673.49 L479.98,672.88 L481.29,672.28 L482.59,671.68 L483.90,671.08 L485.21,670.49 L486.52,669.91 L487.82,669.33 L489.13,668.76 L490.44,668.19 L491.74,667.62 L493.05,667.06 L494.36,666.50 L495.66,665.95 L496.97,665.40 L498.28,664.86 L499.58,664.32 L500.89,663.78 L502.20,663.25 L503.50,662.73 L504.81,662.20 L506.12,661.68 L507.42,661.17 L508.73,660.66 L510.04,660.15 L511.34,659.65 L512.65,659.15 L513.96,658.65 L515.26,658.16 L516.57,657.67 L517.88,657.18 L519.18,656.70 L520.49,656.22 L521.80,655.75 L523.10,655.28 L524.41,654.81 L525.72,654.34 L527.02,653.88 L528.33,653.42 L529.64,652.97 L530.95,652.52 L532.25,652.07 L533.56,651.62 L534.87,651.18 L536.17,650.74 L537.48,650.30 L538.79,649.86 L540.09,649.43 L541.40,649.00 L542.71,648.58 L544.01,648.15 L545.32,647.73 L546.63,647.31 L547.93,646.90 L549.24,646.48 L550.55,646.07 L551.85,645.66 L553.16,645.26 L554.47,644.85 L555.77,644.45 L557.08,644.05 L558.39,643.66 L559.69,643.26 L561.00,642.87 L562.31,642.48 L563.61,642.09 L564.92,641.71 L566.23,641.33 L567.53,640.95 L568.84,640.57 L570.15,640.19 L571.46,639.82 L572.76,639.45 L574.07,639.08 L575.38,638.71 L576.68,638.34 L577.99,637.98 L579.30,637.62 L580.60,637.26 L581.91,636.90 L583.22,636.55 L584.52,636.19 L585.83,635.84 L587.14,635.49 L588.44,635.15 L589.75,634.80 L591.06,634.45 L592.36,634.11 L593.67,633.77 L594.98,633.43 L596.28,633.10 L597.59,632.76 L598.90,632.43 L600.20,632.09 L601.51,631.76 L602.82,631.43 L604.12,631.11 L605.43,630.78 L606.74,630.46 L608.04,630.13 L609.35,629.81 L610.66,629.49 L611.96,629.17 L613.27,628.86 L614.58,628.54 L615.89,628.23 L617.19,627.91 L618.50,627.60 L619.81,627.29 L621.11,626.98 L622.42,626.67 L623.73,626.37 L625.03,626.06 L626.34,625.76 L627.65,625.46 L628.95,625.15 L630.26,624.85 L631.57,624.55 L632.87,624.25 L634.18,623.96 L635.49,623.66 L636.79,623.36 L638.10,623.07 L639.41,622.77 L640.71,622.48 L642.02,622.19 L643.33,621.90 L644.63,621.61 L645.94,621.32 L647.25,621.03 L648.55,620.74 L649.86,620.45 L651.17,620.17 L652.47,619.88 L653.78,619.60 L655.09,619.31 L656.39,619.03 L657.70,618.75 L659.01,618.46 L660.32,618.18 L661.62,617.90 L662.93,617.62 L664.24,617.34 L665.54,617.06 L666.85,616.78 L668.16,616.50 L669.46,616.22 L670.77,615.94 L672.08,615.66 L673.38,615.39 L674.69,615.11 L676.00,614.83 L677.30,614.56 L678.61,614.28 L679.92,614.00 L681.22,613.73 L682.53,613.45 L683.84,613.17 L685.14,612.90 L686.45,612.62 L687.76,612.35 L689.06,612.07 L690.37,611.80" fill="none" stroke="#0000ff" stroke-width="1.15" stroke-dasharray="2,2.02"/>
<path d="M156.11,947.29V967.50M152.16,947.29H160.06M152.16,967.50H160.06M154.82,957.39H157.40M154.82,953.44V961.35M157.40,953.44V961.35M181.00,938.19V956.85M177.05,938.19H184.95M177.05,956.85H184.95M179.61,947.52H182.39M179.61,943.57V951.47M182.39,943.57V951.47M211.08,899.08V917.74M207.13,899.08H215.03M207.13,917.74H215.03M209.57,908.41H212.59M209.57,904.46V912.36M212.59,904.46V912.36M249.98,728.03V746.69M246.03,728.03H253.93M246.03,746.69H253.93M248.32,737.36H251.63M248.32,733.41V741.31M251.63,733.41V741.31M302.35,627.74V643.28M298.40,627.74H306.30M298.40,643.28H306.30M300.50,635.51H304.21M300.50,631.56V639.46M304.21,631.56V639.46M374.96,595.86V609.85M371.01,595.86H378.91M371.01,609.85H378.91M372.82,602.86H377.10M372.82,598.90V606.81M377.10,598.90V606.81M483.86,573.70V588.47M479.91,573.70H487.81M479.91,588.47H487.81M481.31,581.09H486.42M481.31,577.13V585.04M486.42,577.13V585.04M665.89,551.93V565.92M661.94,551.93H669.84M661.94,565.92H669.84M662.63,558.93H669.15M662.63,554.98V562.88M669.15,554.98V562.88" fill="none" stroke="#000" stroke-width="1.1"/>
<path d="M156.11,964.78V972.56M152.16,964.78H160.06M152.16,972.56H160.06M154.82,968.67H157.40M154.82,964.72V972.62M157.40,964.72V972.62M181.00,962.06V969.84M177.05,962.06H184.95M177.05,969.84H184.95M179.61,965.95H182.39M179.61,962.00V969.90M182.39,962.00V969.90M211.08,949.62V961.28M207.13,949.62H215.03M207.13,961.28H215.03M209.57,955.45H212.59M209.57,951.50V959.40M212.59,951.50V959.40M249.98,905.30V917.74M246.03,905.30H253.93M246.03,917.74H253.93M248.32,911.52H251.63M248.32,907.57V915.47M251.63,907.57V915.47M302.35,815.50V828.72M298.40,815.50H306.30M298.40,828.72H306.30M300.50,822.11H304.21M300.50,818.16V826.06M304.21,818.16V826.06M374.96,727.64V741.64M371.01,727.64H378.91M371.01,741.64H378.91M372.82,734.64H377.10M372.82,730.69V738.59M377.10,730.69V738.59M483.86,657.44V671.90M479.91,657.44H487.81M479.91,671.90H487.81M481.31,664.67H486.42M481.31,660.72V668.62M486.42,660.72V668.62M665.89,602.08V616.07M661.94,602.08H669.84M661.94,616.07H669.84M662.63,609.08H669.15M662.63,605.12V613.03M669.15,605.12V613.03" fill="none" stroke="#000" stroke-width="1.1"/>
<path d="M156.11,962.45V974.89M152.16,962.45H160.06M152.16,974.89H160.06M154.82,968.67H157.40M154.82,964.72V972.62M157.40,964.72V972.62M181.00,961.05V973.49M177.05,961.05H184.95M177.05,973.49H184.95M179.61,967.27H182.39M179.61,963.32V971.22M182.39,963.32V971.22M211.08,953.12V962.45M207.13,953.12H215.03M207.13,962.45H215.03M209.57,957.78H212.59M209.57,953.83V961.73M212.59,953.83V961.73M249.98,747.47V758.36M246.03,747.47H253.93M246.03,758.36H253.93M248.32,752.91H251.63M248.32,748.96V756.86M251.63,748.96V756.86M302.35,646.39V654.95M298.40,646.39H306.30M298.40,654.95H306.30M300.50,650.67H304.21M300.50,646.72V654.62M304.21,646.72V654.62M374.96,618.40V625.40M371.01,618.40H378.91M371.01,625.40H378.91M372.82,621.90H377.10M372.82,617.95V625.85M377.10,617.95V625.85M483.86,594.30V602.86M479.91,594.30H487.81M479.91,602.86H487.81M481.31,598.58H486.42M481.31,594.63V602.53M486.42,594.63V602.53M665.89,572.53V580.31M661.94,572.53H669.84M661.94,580.31H669.84M662.63,576.42H669.15M662.63,572.47V580.37M669.15,572.47V580.37" fill="none" stroke="#ff0000" stroke-width="1.1"/>
<path d="M156.11,969.84V974.50M152.16,969.84H160.06M152.16,974.50H160.06M154.82,972.17H157.40M154.82,968.22V976.12M157.40,968.22V976.12M181.00,966.73V972.95M177.05,966.73H184.95M177.05,972.95H184.95M179.61,969.84H182.39M179.61,965.88V973.79M182.39,965.88V973.79M211.08,967.74V973.96M207.13,967.74H215.03M207.13,973.96H215.03M209.57,970.85H212.59M209.57,966.90V974.80M212.59,966.90V974.80M249.98,929.79V936.79M246.03,929.79H253.93M246.03,936.79H253.93M248.32,933.29H251.63M248.32,929.34V937.24M251.63,929.34V937.24M302.35,836.11V843.10M298.40,836.11H306.30M298.40,843.10H306.30M300.50,839.60H304.21M300.50,835.65V843.55M304.21,835.65V843.55M374.96,749.57V757.03M371.01,749.57H378.91M371.01,757.03H378.91M372.82,753.30H377.10M372.82,749.35V757.25M377.10,749.35V757.25M483.86,678.27V686.05M479.91,678.27H487.81M479.91,686.05H487.81M481.31,682.16H486.42M481.31,678.21V686.11M486.42,678.21V686.11M665.89,622.68V630.46M661.94,622.68H669.84M661.94,630.46H669.84M662.63,626.57H669.15M662.63,622.62V630.52M669.15,622.62V630.52" fill="none" stroke="#ff0000" stroke-width="1.1"/>
<path d="M168.97,938.11V966.88M165.02,938.11H172.92M165.02,966.88H172.92M167.63,952.50H170.31M167.63,948.55V956.45M170.31,948.55V956.45M188.99,931.35V955.45M185.04,931.35H192.94M185.04,955.45H192.94M187.57,943.40H190.41M187.57,939.45V947.35M190.41,939.45V947.35M211.39,904.52V927.07M207.44,904.52H215.34M207.44,927.07H215.34M209.88,915.80H212.90M209.88,911.85V919.75M212.90,911.85V919.75M239.09,799.17V820.94M235.14,799.17H243.04M235.14,820.94H243.04M237.47,810.06H240.70M237.47,806.11V814.01M240.70,806.11V814.01M272.28,666.61V686.83M268.33,666.61H276.23M268.33,686.83H276.23M270.53,676.72H274.02M270.53,672.77V680.67M274.02,672.77V680.67M313.97,625.01V643.67M310.02,625.01H317.92M310.02,643.67H317.92M312.07,634.34H315.87M312.07,630.39V638.29M315.87,630.39V638.29M367.80,601.30V619.96M363.85,601.30H371.75M363.85,619.96H371.75M365.69,610.63H369.91M365.69,606.68V614.58M369.91,606.68V614.58M440.20,586.53V604.41M436.25,586.53H444.15M436.25,604.41H444.15M437.81,595.47H442.59M437.81,591.52V599.42M442.59,591.52V599.42M539.87,572.53V591.19M535.92,572.53H543.82M535.92,591.19H543.82M537.10,581.86H542.65M537.10,577.91V585.81M542.65,577.91V585.81M690.37,556.59V574.48M686.42,556.59H694.32M686.42,574.48H694.32M687.02,565.54H693.73M687.02,561.59V569.49M693.73,561.59V569.49" fill="none" stroke="#0000ff" stroke-width="1.1"/>
<path d="M168.97,962.37V972.17M165.02,962.37H172.92M165.02,972.17H172.92M167.63,967.27H170.31M167.63,963.32V971.22M170.31,963.32V971.22M188.99,956.77V970.77M185.04,956.77H192.94M185.04,970.77H192.94M187.57,963.77H190.41M187.57,959.82V967.72M190.41,959.82V967.72M211.39,949.23V963.23M207.44,949.23H215.34M207.44,963.23H215.34M209.88,956.23H212.90M209.88,952.28V960.18M212.90,952.28V960.18M239.09,925.52V941.07M235.14,925.52H243.04M235.14,941.07H243.04M237.47,933.29H240.70M237.47,929.34V937.24M240.70,929.34V937.24M272.28,871.40V888.35M268.33,871.40H276.23M268.33,888.35H276.23M270.53,879.88H274.02M270.53,875.93V883.83M274.02,875.93V883.83M313.97,801.89V819.00M310.02,801.89H317.92M310.02,819.00H317.92M312.07,810.45H315.87M312.07,806.50V814.40M315.87,806.50V814.40M367.80,739.69V757.58M363.85,739.69H371.75M363.85,757.58H371.75M365.69,748.64H369.91M365.69,744.69V752.59M369.91,744.69V752.59M440.20,684.49V703.15M436.25,684.49H444.15M436.25,703.15H444.15M437.81,693.82H442.59M437.81,689.87V697.77M442.59,689.87V697.77M539.87,640.56V658.45M535.92,640.56H543.82M535.92,658.45H543.82M537.10,649.50H542.65M537.10,645.55V653.46M542.65,645.55V653.46M690.37,602.86V620.74M686.42,602.86H694.32M686.42,620.74H694.32M687.02,611.80H693.73M687.02,607.85V615.75M693.73,607.85V615.75" fill="none" stroke="#0000ff" stroke-width="1.1"/>
<path d="M399.9,816.0H448" stroke="#000" stroke-width="1" stroke-dasharray="8,5.34" fill="none"/>
<path d="M400,840.5H448" stroke="#ff0000" stroke-width="1.15" fill="none"/>
<path d="M399.8,865.4000000000001H448" stroke="#0000ff" stroke-width="1.15" stroke-dasharray="2,2.02" fill="none"/>
<path d="M400.8,889.65H448.5" stroke="#bc8f8f" stroke-width="3" stroke-linecap="round" stroke-dasharray="6.2,7.24" fill="none"/>
<text x="459" y="822.7" font-size="19.9" text-anchor="start" letter-spacing="0.15"><tspan font-family="Liberation Serif, serif">β</tspan>=6.0, L=16a ~1.5fm</text>
<text x="459" y="847.2" font-size="19.9" text-anchor="start" letter-spacing="0.15"><tspan font-family="Liberation Serif, serif">β</tspan>=6.0, L=24a ~2.2fm</text>
<text x="459" y="871.9000000000001" font-size="19.9" text-anchor="start" letter-spacing="0.15"><tspan font-family="Liberation Serif, serif">β</tspan>=6.2, L=22a ~1.5fm</text>
<text x="458.6" y="896.35" font-size="19.9" text-anchor="start" >continuum S.B. limit</text>
<text x="131.6" y="982.0" font-size="19.9" text-anchor="end" >0</text>
<text x="131.6" y="904.225" font-size="19.9" text-anchor="end" >1</text>
<text x="131.6" y="826.45" font-size="19.9" text-anchor="end" >2</text>
<text x="131.6" y="748.675" font-size="19.9" text-anchor="end" >3</text>
<text x="131.6" y="670.9" font-size="19.9" text-anchor="end" >4</text>
<text x="131.6" y="593.125" font-size="19.9" text-anchor="end" >5</text>
<text x="131.6" y="515.3499999999999" font-size="19.9" text-anchor="end" >6</text>
<text x="144.6" y="998" font-size="19.9" text-anchor="middle" >200</text>
<text x="248.30399999999997" y="998" font-size="19.9" text-anchor="middle" >300</text>
<text x="352.008" y="998" font-size="19.9" text-anchor="middle" >400</text>
<text x="455.712" y="998" font-size="19.9" text-anchor="middle" >500</text>
<text x="559.4159999999999" y="998" font-size="19.9" text-anchor="middle" >600</text>
<text x="663.12" y="998" font-size="19.9" text-anchor="middle" >700</text>
<text x="625.5" y="955.5" font-size="19.9" text-anchor="start" >T[MeV]</text>
<text x="256.5" y="607.3" font-size="19.9"><tspan font-family="Liberation Serif, serif">ε</tspan>/T<tspan font-size="11.2" dy="-11.5" dx="0.8">4</tspan></text>
<text x="467.6" y="723.5" font-size="19.9">3p/T<tspan font-size="11.2" dy="-11.1">4</tspan></text>
</svg>
</body></html>
